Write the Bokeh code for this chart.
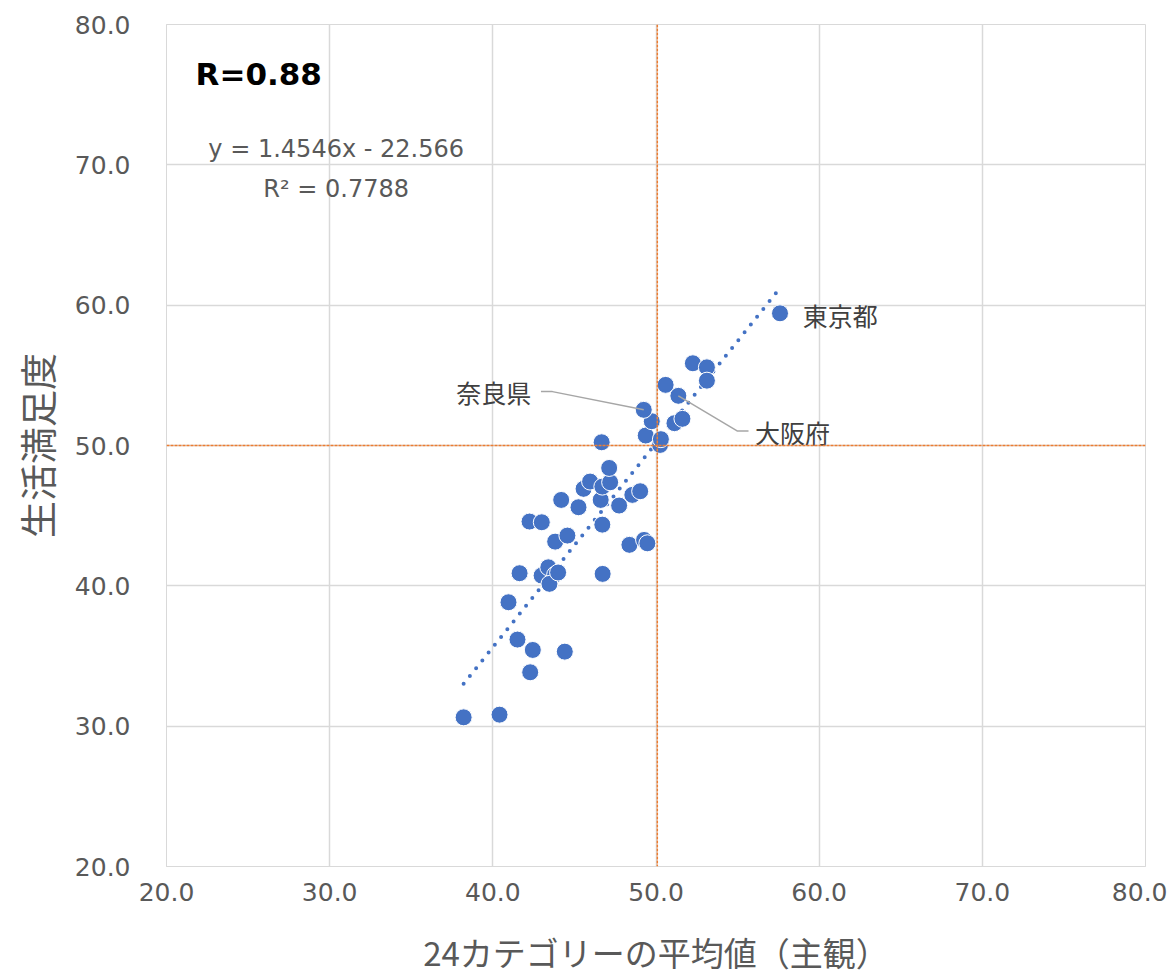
from bokeh.plotting import figure
from bokeh.models import ColumnDataSource, Span, Label, FixedTicker, NumeralTickFormatter
from bokeh.core.properties import value
from bokeh.embed import file_html
from bokeh.resources import INLINE

# --- data ---
x_subjective = [38.21, 40.41, 42.29, 44.41, 42.45, 41.51, 40.96, 41.64, 42.99, 43.40,
                43.82, 43.47, 44.00, 46.73, 48.37, 49.27, 49.47, 43.82, 44.57, 42.25,
                43.00, 46.71, 44.19, 45.25, 45.56, 45.96, 46.61, 46.71, 47.19, 47.13,
                47.74, 48.55, 49.03, 46.67, 49.37, 49.74, 49.25, 50.25, 50.30, 50.59,
                51.37, 51.13, 51.62, 52.26, 53.12, 53.12, 57.60]
y_satisfaction = [30.63, 30.82, 33.84, 35.31, 35.43, 36.17, 38.83, 40.90, 40.73, 41.32,
                  40.80, 40.14, 40.95, 40.85, 42.92, 43.27, 43.03, 43.15, 43.58, 44.58,
                  44.53, 44.36, 46.12, 45.60, 46.91, 47.43, 46.12, 47.07, 47.38, 48.40,
                  45.72, 46.48, 46.74, 50.23, 50.71, 51.73, 52.54, 50.04, 50.45, 54.32,
                  53.54, 51.59, 51.90, 55.86, 55.57, 54.62, 59.42]

slope = 1.4546
intercept = -22.566
r_value = 0.88
r_squared = 0.7788
avg_x = 50.08
avg_y = 50.0

labels_name = ["東京都", "奈良県", "大阪府"]
labels_x = [57.60, 49.25, 51.37]
labels_y = [59.42, 52.54, 53.54]

ticks = [20, 30, 40, 50, 60, 70, 80]

FONT_NUM = "DejaVu Sans"
FONT_JP = "Noto Sans CJK JP"
GRAY = "#595959"
BLUE = "#4472C4"
ORANGE = "#ED7D31"

p = figure(width=1167, height=979, x_range=(20, 80), y_range=(20, 80),
           output_backend="svg", toolbar_location=None,
           min_border_left=166, min_border_right=22, min_border_top=24, min_border_bottom=113)
p.background_fill_color = "white"
p.border_fill_color = "white"
p.outline_line_color = "#d9d9d9"

for ax in (p.xaxis[0], p.yaxis[0]):
    ax.ticker = FixedTicker(ticks=ticks)
    ax.formatter = NumeralTickFormatter(format="0.0")
    ax.major_tick_line_color = None
    ax.minor_tick_line_color = None
    ax.axis_line_color = "#d9d9d9"
    ax.major_label_text_font = FONT_NUM
    ax.major_label_text_font_size = "25px"
    ax.major_label_text_color = GRAY
    ax.axis_label_text_font = FONT_JP
    ax.axis_label_text_font_style = "normal"
    ax.axis_label_text_color = GRAY

p.xaxis.major_label_standoff = 10
p.yaxis.major_label_standoff = 30
p.xaxis.axis_label = "24カテゴリーの平均値（主観）"
p.xaxis.axis_label_text_font_size = "33px"
p.xaxis.axis_label_standoff = 24
p.yaxis.axis_label = "生活満足度"
p.yaxis.axis_label_text_font_size = "37px"
p.yaxis.axis_label_standoff = 8

p.grid.grid_line_color = "#d9d9d9"
p.grid.grid_line_width = 1.5
p.xgrid.ticker = FixedTicker(ticks=ticks)
p.ygrid.ticker = FixedTicker(ticks=ticks)

# average lines
p.add_layout(Span(location=avg_x, dimension="height", line_color=ORANGE,
                  line_width=1.5, line_dash="3 1"))
p.add_layout(Span(location=avg_y, dimension="width", line_color=ORANGE,
                  line_width=1.5, line_dash="3 1"))

# trendline
xmin, xmax = min(x_subjective), max(x_subjective)
p.line([xmin, xmax], [slope * xmin + intercept, slope * xmax + intercept],
       line_color=BLUE, line_width=4, line_dash="0 10", line_cap="round")

# points
src = ColumnDataSource(dict(x=x_subjective, y=y_satisfaction))
p.scatter("x", "y", source=src, size=17, fill_color=BLUE, line_color="white",
          line_width=1)

# leader lines for labels
p.line([labels_x[1], labels_x[1] - 5.6, labels_x[1] - 6.3],
       [labels_y[1], labels_y[1] + 1.3, labels_y[1] + 1.3],
       line_color="#a6a6a6", line_width=1.5)
p.line([labels_x[2], labels_x[2] + 3.6, labels_x[2] + 4.3],
       [labels_y[2], labels_y[2] - 2.5, labels_y[2] - 2.5],
       line_color="#a6a6a6", line_width=1.5)

p.text(x=[labels_x[0] + 1.4], y=[labels_y[0] - 0.1], text=[labels_name[0]],
       text_font=value(FONT_JP), text_font_size="25px", text_color="#404040",
       text_baseline="middle", text_align="left")
p.text(x=[labels_x[1] - 6.9], y=[labels_y[1] + 1.3], text=[labels_name[1]],
       text_font=value(FONT_JP), text_font_size="25px", text_color="#404040",
       text_baseline="middle", text_align="right")
p.text(x=[labels_x[2] + 4.7], y=[labels_y[2] - 2.6], text=[labels_name[2]],
       text_font=value(FONT_JP), text_font_size="25px", text_color="#404040",
       text_baseline="middle", text_align="left")

# annotations
p.add_layout(Label(x=21.78, y=76.5, text=f"R={r_value}", text_font=FONT_NUM,
                   text_font_size="31px", text_font_style="bold", text_color="black",
                   text_baseline="middle"))
p.add_layout(Label(x=30.4, y=71.1, text=f"y = {slope}x - {abs(intercept)}",
                   text_font=FONT_NUM, text_font_size="24px", text_color=GRAY,
                   text_baseline="middle", text_align="center"))
p.add_layout(Label(x=30.4, y=68.25, text=f"R² = {r_squared}",
                   text_font=FONT_NUM, text_font_size="24px", text_color=GRAY,
                   text_baseline="middle", text_align="center"))

open("out.html", "w").write(file_html(p, INLINE))
